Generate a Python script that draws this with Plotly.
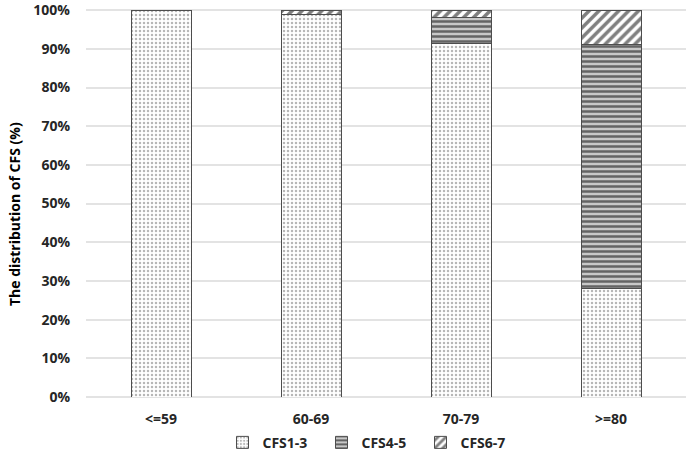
import plotly.graph_objects as go

categories = ["<=59", "60-69", "70-79", ">=80"]
cfs1_3 = [100.0, 98.8, 91.3, 28.0]
cfs4_5 = [0.0, 0.0, 6.8, 63.0]
cfs6_7 = [0.0, 1.2, 1.9, 9.0]
series_names = ["CFS1-3", "CFS4-5", "CFS6-7"]
y_ticks = [0, 10, 20, 30, 40, 50, 60, 70, 80, 90, 100]

FONT = "Open Sans"
fig = go.Figure()
patterns = [
    dict(shape=".", fgcolor="#6e6e6e", bgcolor="white", size=4, solidity=0.3),
    dict(shape="-", fgcolor="#000000", bgcolor="#c8c8c8", size=5, solidity=0.5),
    dict(shape="/", fgcolor="#000000", bgcolor="white", size=7, solidity=0.5),
]
for name, vals, pat in zip(series_names, [cfs1_3, cfs4_5, cfs6_7], patterns):
    fig.add_trace(go.Bar(
        x=categories, y=vals, name=name,
        marker=dict(color="white", pattern=pat,
                    line=dict(color="#4d4d4d", width=1)),
    ))

fig.update_layout(
    barmode="stack",
    bargap=0.6,
    width=689, height=452,
    margin=dict(l=86, r=3, t=9, b=55, autoexpand=False),
    plot_bgcolor="white", paper_bgcolor="white",
    font=dict(family=FONT, size=14, color="#262626"),
    legend=dict(orientation="h", x=0.475, xanchor="center", y=-0.118, yanchor="middle",
                traceorder="normal",
                font=dict(family=FONT, size=14, color="#262626", weight="bold"),
                itemwidth=30, entrywidth=54, entrywidthmode="pixels"),
    showlegend=True,
    annotations=[dict(text="The distribution of CFS (%)", textangle=-90,
                      xref="paper", yref="paper", x=-0.118, y=0.472,
                      xanchor="center", yanchor="middle", showarrow=False,
                      font=dict(family=FONT, size=14, color="#000000", weight="bold"))],
)
fig.update_xaxes(showgrid=False, showline=False, zeroline=False, automargin=False,
                 tickfont=dict(family=FONT, size=14, color="#262626", weight="bold"),
                 ticks="", ticklabelstandoff=12)
fig.update_yaxes(range=[0, 100.3], tickvals=y_ticks, automargin=False,
                 ticktext=[f"{v}%" for v in y_ticks],
                 showgrid=True, gridcolor="#e3e3e3", gridwidth=1.5,
                 zeroline=True, zerolinecolor="#e3e3e3", zerolinewidth=1.5,
                 showline=False, ticks="", ticklabelstandoff=15,
                 tickfont=dict(family=FONT, size=14, color="#262626", weight="bold"))

fig.write_html("out.html", config={"displayModeBar": False},
               post_script="document.body.style.margin='0';")
